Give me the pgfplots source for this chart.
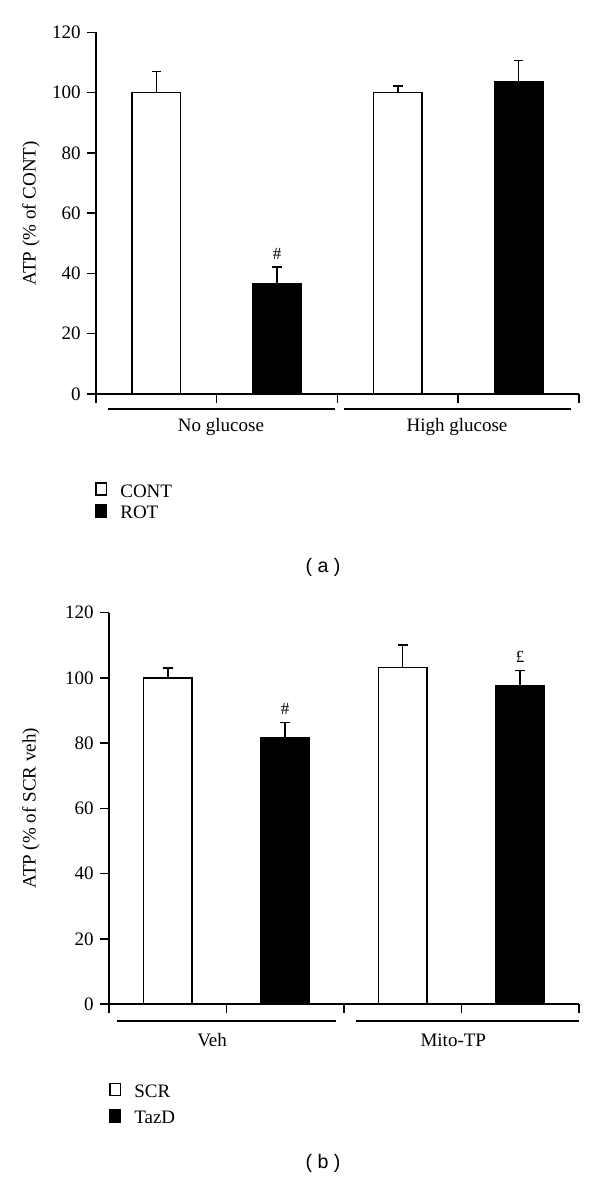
\documentclass[border=0pt]{standalone}
\usepackage{fontspec}
\setmainfont{Liberation Serif}
\newfontfamily\sansf{Liberation Sans}
\usepackage{pgfplots}
\pgfplotsset{compat=1.18}
\newcommand{\lblfont}{\fontsize{9.5}{11}\selectfont}
\pgfplotsset{
  panel/.style={
    scale only axis, clip=false,
    xmin=0, xmax=4, ymin=0, ymax=120,
    axis x line*=bottom, axis y line*=left,
    axis line style={line width=0.75pt, -},
    xtick={0,1,2,3,4}, xticklabels={},
    ytick={0,20,40,60,80,100,120},
    tick align=outside, major tick length=4.5pt,
    tick style={line width=0.75pt, black},
    /pgf/number format/assume math mode=true,
    ticklabel style={font=\lblfont},
    yticklabel style={inner sep=3pt},
    ylabel style={font=\lblfont, anchor=center},
    legend style={draw=none, fill=none, font=\lblfont, inner sep=0pt,
      nodes={inner sep=0pt}, legend cell align=left,
      /tikz/every odd column/.append style={column sep=6.5pt}},
  },
  barp/.style={ybar, bar shift=0pt, draw=black, line width=0.75pt,
    error bars/y dir=plus, error bars/y explicit,
    error bars/error bar style={line width=0.75pt, black}},
  caps/.style={only marks, mark=-, mark size=2.4pt, black,
    mark options={line width=0.75pt, black}, forget plot},
}
\begin{document}
\begin{tikzpicture}
\path[use as bounding box] (0,0) rectangle (300pt,590pt);
% ---------------- panel (a)
\begin{axis}[panel, at={(48pt,393pt)}, anchor=south west,
  width=241.5pt, height=180.75pt, bar width=0.4,
  ylabel={ATP (\% of CONT)},
  ylabel style={at={(axis description cs:-0.1346,0.5)}},
  legend style={at={(axis description cs:-0.002,-0.2988)}, anchor=west, row sep=2pt}]
\addlegendimage{legend image code/.code={\draw[black,fill=white,line width=0.75pt] (0pt,-1.5pt) rectangle (5.2pt,4.5pt);}}
\addlegendentry{CONT}
\addlegendimage{legend image code/.code={\draw[black,fill=black,line width=0.75pt] (0pt,-1.5pt) rectangle (5.2pt,4.5pt);}}
\addlegendentry{ROT}
\addplot[barp, fill=white, forget plot] coordinates {(0.5,100) +- (0,7.0) (2.5,100) +- (0,2.2)};
\addplot[barp, fill=black, forget plot] coordinates {(1.5,36.7) +- (0,5.4) (3.5,103.5) +- (0,7.2)};
\addplot[caps] coordinates {(0.5,107.0) (2.5,102.2) (1.5,42.1) (3.5,110.7)};
\node[font=\fontsize{8.5}{9}\selectfont] at (axis cs:1.5,46.5) {\#};
\draw[line width=0.75pt] ([yshift=-7.5pt]axis cs:0.1,0) -- ([yshift=-7.5pt]axis cs:1.98,0);
\draw[line width=0.75pt] ([yshift=-7.5pt]axis cs:2.05,0) -- ([yshift=-7.5pt]axis cs:3.93,0);
\node[font=\lblfont] at ([yshift=-16.5pt]axis cs:1.035,0) {No glucose};
\node[font=\lblfont] at ([yshift=-16.5pt]axis cs:2.99,0) {High glucose};
\end{axis}
\node[font=\sansf\fontsize{9.8}{11}\selectfont] at (161.5pt,306.5pt) {( a )};
% ---------------- panel (b)
\begin{axis}[panel, at={(54.5pt,88pt)}, anchor=south west,
  width=235pt, height=195.65pt, bar width=0.41,
  ylabel={ATP (\% of SCR veh)},
  ylabel style={at={(axis description cs:-0.166,0.5)}},
  legend style={at={(axis description cs:0,-0.258)}, anchor=west, row sep=4.5pt}]
\addlegendimage{legend image code/.code={\draw[black,fill=white,line width=0.75pt] (0pt,-1.5pt) rectangle (5.2pt,4.5pt);}}
\addlegendentry{SCR}
\addlegendimage{legend image code/.code={\draw[black,fill=black,line width=0.75pt] (0pt,-1.5pt) rectangle (5.2pt,4.5pt);}}
\addlegendentry{TazD}
\addplot[barp, fill=white, forget plot] coordinates {(0.5,100) +- (0,3.1) (2.5,103.2) +- (0,6.9)};
\addplot[barp, fill=black, forget plot] coordinates {(1.5,81.7) +- (0,4.6) (3.5,97.6) +- (0,4.6)};
\addplot[caps] coordinates {(0.5,103.1) (2.5,110.1) (1.5,86.3) (3.5,102.2)};
\node[font=\fontsize{8.5}{9}\selectfont] at (axis cs:1.5,90.5) {\#};
\node[font=\fontsize{8.5}{9}\selectfont] at (axis cs:3.5,106.4) {£};
\draw[line width=0.75pt] ([yshift=-8.5pt]axis cs:0.068,0) -- ([yshift=-8.5pt]axis cs:1.932,0);
\draw[line width=0.75pt] ([yshift=-8.5pt]axis cs:2.10,0) -- ([yshift=-8.5pt]axis cs:4,0);
\node[font=\lblfont] at ([yshift=-18pt]axis cs:0.877,0) {Veh};
\node[font=\lblfont] at ([yshift=-18pt]axis cs:2.93,0) {Mito-TP};
\end{axis}
\node[font=\sansf\fontsize{9.8}{11}\selectfont] at (161.5pt,8.5pt) {( b )};
\end{tikzpicture}
\end{document}
